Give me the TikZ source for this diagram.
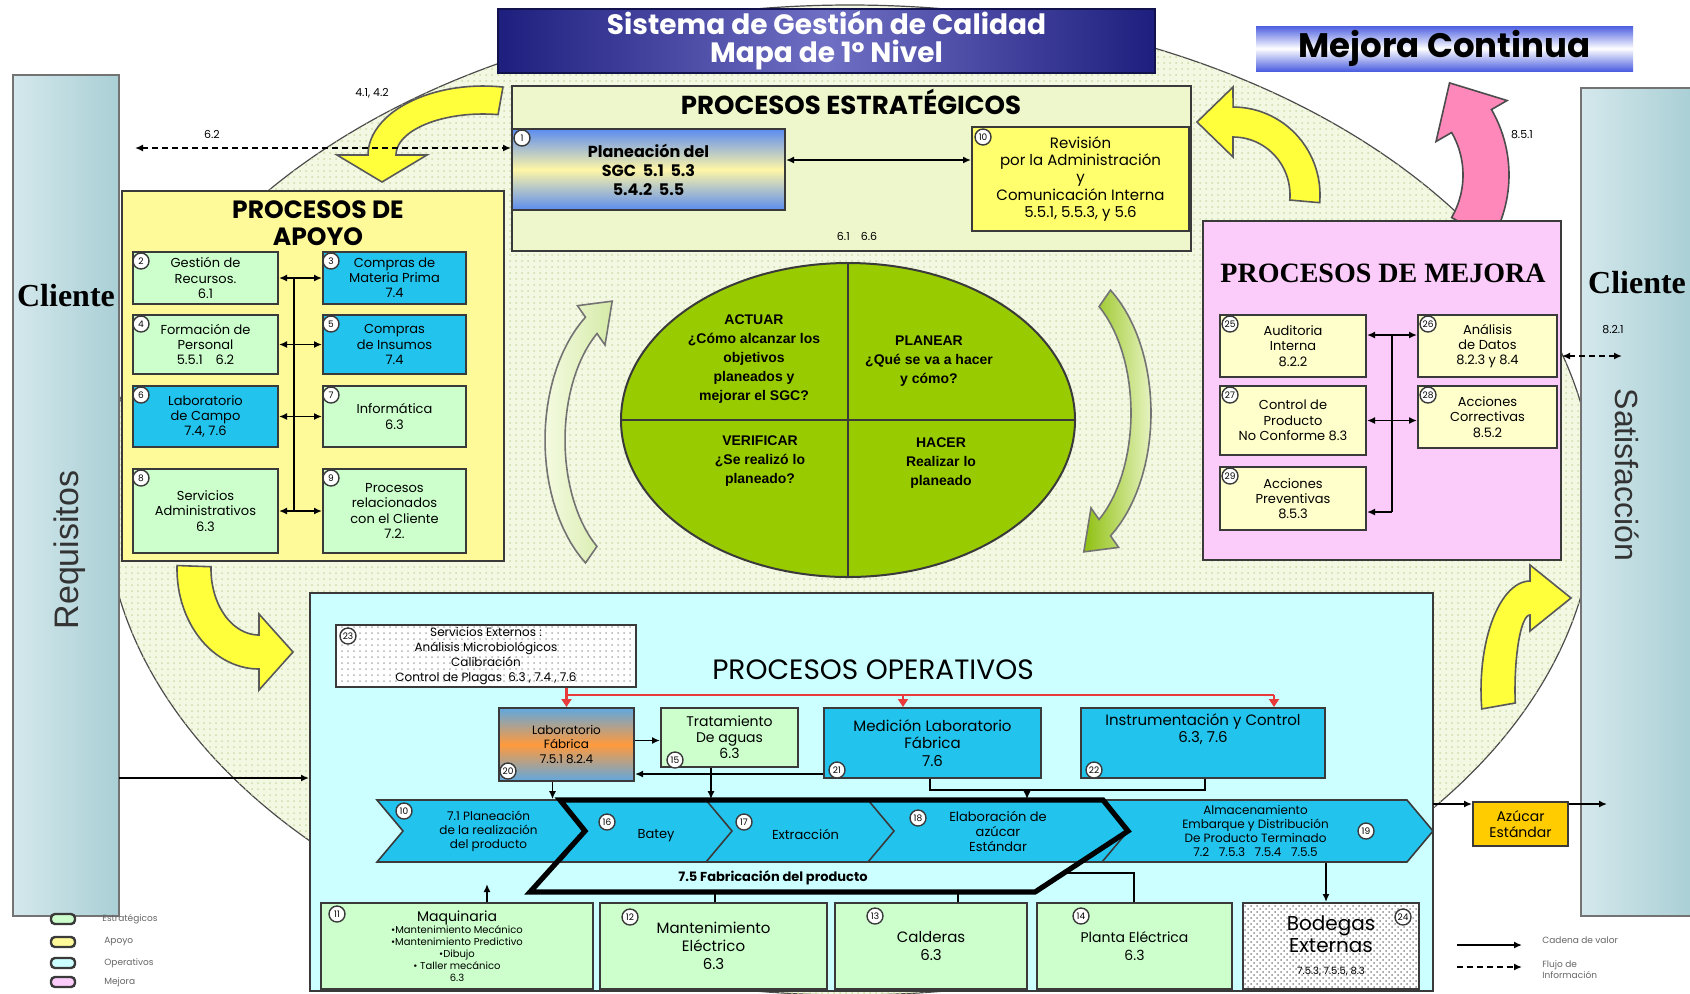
\documentclass[tikz,border=0pt]{standalone}
\usepackage{fontspec}
\setmainfont{Poppins}
\newfontfamily\serifb{Liberation Serif}
\newfontfamily\arialf{Liberation Sans}
\usetikzlibrary{arrows.meta,shapes.symbols,shapes.geometric,patterns}
\definecolor{ellbg}{HTML}{F3F8E2}
\definecolor{ellpat}{HTML}{CCDAA8}
\definecolor{barL}{HTML}{D4E8EC}
\definecolor{barR}{HTML}{A9CFD5}
\definecolor{navyA}{HTML}{1E1E7E}
\definecolor{navyB}{HTML}{6F6FC4}
\definecolor{mcBlue}{HTML}{4C5FE0}
\definecolor{estbg}{HTML}{EEF6CC}
\definecolor{apbg}{HTML}{FFFA99}
\definecolor{mejbg}{HTML}{FBCCF9}
\definecolor{opbg}{HTML}{CCFFFF}
\definecolor{grbox}{HTML}{CCFFCC}
\definecolor{cybox}{HTML}{22C4EE}
\definecolor{ylbox}{HTML}{FFFF6E}
\definecolor{lybox}{HTML}{FFFFCC}
\definecolor{pdca}{HTML}{99CC00}
\definecolor{yarrow}{HTML}{FFFF3C}
\definecolor{parrow}{HTML}{FF88BB}
\definecolor{redl}{HTML}{E83A3A}
\definecolor{pblue}{HTML}{5B8CF0}
\definecolor{pyel}{HTML}{FFF6A6}
\definecolor{labblue}{HTML}{5FA8E0}
\definecolor{laborange}{HTML}{FF9A3C}
\definecolor{azucar}{HTML}{FFCC00}
\definecolor{edge}{HTML}{3A3A3A}
\definecolor{gArL}{HTML}{F4FAE0}
\definecolor{gArR}{HTML}{D5EBA8}
\definecolor{gArD}{HTML}{8FC010}
\definecolor{gArM}{HTML}{E6F3C0}
\newcommand\fs[2]{\fontsize{#1}{#2}\selectfont}
\newcommand\bx[7]{\node[#6,minimum width={(#4-#2)*0.5pt},minimum height={(#5-#3)*0.5pt}] (#1) at ({(#2+#4)/2},{(#3+#5)/2}) {#7};}
\newcommand\nc[4]{\node[numc] (#1) at (#2,#3) {#4};}
\def\HL{30}
\newcommand\bentarrow[9][]{%
  \pgfmathsetmacro\BAsg{ifthenelse(#7>#6,1,-1)}%
  \pgfmathsetmacro\BAtx{-(#4)*sin(#7)*\BAsg}%
  \pgfmathsetmacro\BAty{-(#5)*cos(#7)*\BAsg}%
  \pgfmathsetmacro\BAtn{sqrt((\BAtx)^2+(\BAty)^2)}%
  \pgfmathsetmacro\BAtx{\BAtx/\BAtn}%
  \pgfmathsetmacro\BAty{\BAty/\BAtn}%
  \pgfmathsetmacro\BAex{#2+(#4)*cos(#7)}%
  \pgfmathsetmacro\BAey{#3-(#5)*sin(#7)}%
  \pgfmathsetmacro\BAnx{cos(#7)}%
  \pgfmathsetmacro\BAny{-sin(#7)}%
  \pgfmathsetmacro\BAro{(#8)/2}%
  \pgfmathsetmacro\BAh{(#9)/2}%
  \draw[#1] plot[domain=0:1,samples=30,variable=\ang] ({#2+(#4+\BAro)*cos((#6)+((#7)-(#6))*\ang)},{#3-(#5+\BAro)*sin((#6)+((#7)-(#6))*\ang)})
    -- ({\BAex+\BAh*\BAnx},{\BAey+\BAh*\BAny})
    -- ({\BAex+\HL*\BAtx},{\BAey+\HL*\BAty})
    -- ({\BAex-\BAh*\BAnx},{\BAey-\BAh*\BAny})
    -- plot[domain=0:1,samples=30,variable=\ang] ({#2+(#4-\BAro)*cos((#7)+((#6)-(#7))*\ang)},{#3-(#5-\BAro)*sin((#7)+((#6)-(#7))*\ang)})
    -- cycle;
}
\begin{document}
\begin{tikzpicture}[x=0.5pt,y=-0.5pt,
  box/.style={draw=edge,line width=1pt,align=center,inner sep=1pt,font=\fs{6.5}{7.6}},
  gbox/.style={box,fill=grbox},
  cbox/.style={box,fill=cybox},
  ybox/.style={box,fill=lybox},
  numc/.style={circle,draw=edge,fill=white,line width=0.7pt,inner sep=0pt,minimum size=8pt,font=\fs{4.5}{5}},
  arr/.style={line width=0.8pt,-{Latex[length=4pt,width=3.5pt]}},
  darr/.style={line width=0.8pt,{Latex[length=4pt,width=3.5pt]}-{Latex[length=4pt,width=3.5pt]}},
  redarr/.style={draw=redl,line width=1.2pt,-{Triangle[length=4pt,width=5pt]}},
  chev/.style={signal,signal to=east,signal from=west,signal pointer angle=100,draw=edge,fill=cybox,line width=0.8pt,inner sep=0pt,minimum height=31pt,align=center,font=\fs{6}{7}},
  yarr/.style={draw=black!65,line width=0.8pt,fill=yarrow},
  lab/.style={font=\fs{5.5}{6},inner sep=1pt},
  pdt/.style={font=\arialf\bfseries\fs{7}{9.5},align=center,inner sep=0pt},
  dsh/.style={dash pattern=on 3pt off 2pt},
]
\useasboundingbox (0,0) rectangle (1690,993);
\fill[white] (0,0) rectangle (1690,993);
% background ellipse
\node[ellipse,draw=black!70,line width=0.6pt,fill=ellbg,postaction={pattern=dots,pattern color=ellpat},minimum width=745pt,minimum height=495pt,inner sep=0pt] (bg) at (850,500) {};
% client bars
\bx{cliL}{13}{75}{119}{916}{draw=black!55,line width=0.8pt,left color=barL,right color=barR}{}
\bx{cliR}{1581}{88}{1692}{916}{draw=black!55,line width=0.8pt,left color=barL,right color=barR}{}
\node[font=\serifb\bfseries\fs{16}{16},inner sep=0pt] (cliLt) at (66,296) {Cliente};
\node[font=\arialf\fs{17}{17},text=black!80,rotate=90,inner sep=0pt] (req) at (70,550) {Requisitos};
\node[font=\serifb\bfseries\fs{16}{16},inner sep=0pt] (cliRt) at (1637,283) {Cliente};
\node[font=\arialf\fs{16}{16},text=black!80,rotate=-90,inner sep=0pt] (sat) at (1627,475) {Satisfacción};
% title boxes
\bx{title}{498}{9}{1155}{73}{draw=navyA!60!black,line width=1pt,left color=navyA,right color=navyA,middle color=navyB,text=white,align=center,inner sep=0pt,font=\bfseries\fs{14}{14}}{Sistema de Gestión de Calidad\\Mapa de 1° Nivel}
\bx{mc}{1256}{26}{1633}{71}{top color=mcBlue,bottom color=mcBlue,middle color=white,inner sep=0pt,font=\bfseries\fs{17}{17}}{Mejora Continua}
% big curved arrows
\def\HL{27}\bentarrow[yarr]{483}{155}{101}{55}{80}{180}{28}{90}
\def\HL{36}\bentarrow[yarr]{1233}{195}{72}{73}{-5}{90}{30}{70}
\def\HL{44}\bentarrow[draw=black!70,line width=0.8pt,fill=parrow]{1378}{175}{108}{108}{-30}{30}{46}{82}
\def\HL{34}\bentarrow[yarr]{259}{569}{65}{83}{178}{270}{34}{76}
\def\HL{41}\bentarrow[yarr]{1530}{690}{32}{92}{190}{90}{34}{66}
\def\HL{32}\bentarrow[draw=black!55,line width=0.8pt,left color=gArL,right color=gArR]{640}{440}{85}{140}{235}{125}{20}{48}
\def\HL{32}\bentarrow[draw=black!55,line width=0.8pt,left color=gArD,right color=gArM]{1056}{413}{85}{140}{55}{-55}{20}{48}
% group boxes
\bx{est}{512}{86}{1191}{251}{draw=edge,line width=1pt,fill=estbg}{}
\bx{apo}{122}{191}{504}{561}{draw=edge,line width=1pt,fill=apbg}{}
\bx{mej}{1203}{221}{1561}{560}{draw=edge,line width=1pt,fill=mejbg}{}
\bx{op}{310}{593}{1433}{991}{draw=edge,line width=1pt,fill=opbg}{}
% headers
\node[font=\bfseries\fs{13}{13},inner sep=0pt] (esT) at (851,102) {PROCESOS ESTRATÉGICOS};
\node[font=\bfseries\fs{12.5}{13.5},align=center,inner sep=0pt] (apT) at (318,223) {PROCESOS DE\\APOYO};
\node[font=\serifb\bfseries\fs{14}{14},inner sep=0pt] (mjT) at (1383,273) {PROCESOS DE MEJORA};
\node[font=\fs{14}{14},inner sep=0pt] (opT) at (873,670) {PROCESOS OPERATIVOS};
% strategic
\bx{e1}{512}{129}{785}{210}{box,top color=pblue,bottom color=pblue,middle color=pyel,font=\bfseries\fs{8}{9.5}}{Planeación del\\SGC\ \ 5.1\ \ 5.3\\5.4.2\ \ 5.5}
\bx{e10}{972}{127}{1189}{231}{box,fill=ylbox,font=\fs{7.5}{8.7}}{Revisión\\por la Administración\\y\\Comunicación Interna\\5.5.1, 5.5.3, y 5.6}
\nc{n1}{522}{138}{1}
\nc{n10}{983}{137}{10}
\draw[darr] ([yshift=4.75pt]e1.east) -- ([yshift=4.75pt]e1.east -| e10.west);
\node[lab] (l66) at (857,236) {6.1\quad 6.6};
\coordinate (d62) at (135,148);
\draw[darr,dsh] (d62) -- (d62 -| e1.west);
\node[lab] (l62) at (212,134) {6.2};
\node[lab] (l41) at (372,93) {4.1, 4.2};
% apoyo boxes
\bx{a2}{133}{252}{278}{304}{gbox}{Gestión de\\Recursos.\\6.1}
\bx{a3}{323}{252}{466}{304}{cbox}{Compras de\\Materia Prima\\7.4}
\bx{a4}{133}{315}{278}{374}{gbox}{Formación de\\Personal\\5.5.1\quad 6.2}
\bx{a5}{323}{315}{466}{374}{cbox}{Compras\\de Insumos\\7.4}
\bx{a6}{133}{386}{278}{447}{cbox}{Laboratorio\\de Campo\\7.4, 7.6}
\bx{a7}{323}{386}{466}{447}{gbox}{Informática\\6.3}
\bx{a8}{133}{469}{278}{553}{gbox}{Servicios\\Administrativos\\6.3}
\bx{a9}{323}{469}{466}{553}{gbox}{Procesos\\relacionados\\con el Cliente\\7.2.}
\nc{n2}{141}{261}{2}\nc{n3}{331}{261}{3}\nc{n4}{141}{324}{4}\nc{n5}{331}{324}{5}
\nc{n6}{141}{395}{6}\nc{n7}{331}{395}{7}\nc{n8}{141}{478}{8}\nc{n9}{331}{478}{9}
\coordinate (abT) at (294,278);
\coordinate (abB) at (294,511);
\draw[line width=1pt] (abT) -- (abB);
\draw[darr] (a2.east) -- (a3.west);
\draw[darr] (a4.east) -- (a5.west);
\draw[darr] (a6.east) -- (a7.west);
\draw[darr] (a8.east) -- (a9.west);
% PDCA
\node[ellipse,draw=edge,line width=1pt,fill=pdca,minimum width=227pt,minimum height=157pt,inner sep=0pt] (pd) at (848,420) {};
\draw[line width=1.2pt,edge] (pd.north) -- (pd.south);
\draw[line width=1.2pt,edge] (pd.west) -- (pd.east);
\node[pdt] (tA) at (754,359) {ACTUAR\\¿Cómo alcanzar los\\objetivos\\planeados y\\mejorar el SGC?};
\node[pdt] (tP) at (929,361) {PLANEAR\\¿Qué se va a hacer\\y cómo?};
\node[pdt] (tV) at (760,461) {VERIFICAR\\¿Se realizó lo\\planeado?};
\node[pdt] (tH) at (941,463) {HACER\\Realizar lo\\planeado};
% mejora
\bx{m25}{1220}{315}{1366}{377}{ybox}{Auditoria\\Interna\\8.2.2}
\bx{m26}{1418}{315}{1557}{377}{ybox}{Análisis\\de Datos\\8.2.3 y 8.4}
\bx{m27}{1220}{386}{1366}{455}{ybox}{Control de\\Producto\\No Conforme 8.3}
\bx{m28}{1418}{386}{1557}{448}{ybox}{Acciones\\Correctivas\\8.5.2}
\bx{m29}{1220}{467}{1366}{530}{ybox}{Acciones\\Preventivas\\8.5.3}
\nc{n25}{1230}{324}{25}\nc{n26}{1428}{324}{26}\nc{n27}{1230}{395}{27}\nc{n28}{1428}{395}{28}\nc{n29}{1230}{476}{29}
\coordinate (mbT) at (1392,335);
\coordinate (mbB) at (1392,512);
\draw[line width=1pt] (mbT) -- (mbB);
\draw[darr] ([yshift=5.5pt]m25.east) -- ([yshift=5.5pt]m26.west);
\draw[darr] (m27.east) -- (m27.east -| m28.west);
\draw[arr] (mbB) -- (mbB -| m29.east);
\coordinate (c821) at (1622,356);
\draw[darr,dsh] (c821 -| mej.east) -- (c821);
\node[lab] (l821) at (1613,330) {8.2.1};
\node[lab] (l851) at (1522,135) {8.5.1};
% operativos
\bx{o23}{336}{625}{636}{687}{box,preaction={fill=white},pattern=dots,pattern color=black!30,font=\fs{6}{7.5}}{Servicios Externos :\\Análisis Microbiológicos\\Calibración\\Control de Plagas\ \ 6.3 , 7.4 , 7.6}
\bx{o20}{499}{708}{634}{781}{box,top color=labblue,bottom color=labblue,middle color=laborange,font=\fs{6}{7.2}}{Laboratorio\\Fábrica\\7.5.1 8.2.4}
\bx{o19}{661}{708}{798}{767}{gbox,font=\fs{7}{8}}{Tratamiento\\De aguas\\6.3}
\bx{o21}{824}{708}{1041}{778}{cbox,font=\fs{7.5}{8.7}}{Medición Laboratorio\\Fábrica\\7.6}
\bx{o22}{1081}{708}{1325}{778}{cbox,font=\fs{7.5}{8.7}}{Instrumentación y Control\\6.3, 7.6\\[6pt]}
\nc{n23}{348}{636}{23}\nc{n20}{508}{771}{20}\nc{n15}{675}{760}{15}\nc{n21}{837}{770}{21}\nc{n22}{1094}{770}{22}
\coordinate (rj) at (566.5,695);
\coordinate (rM) at (903,695);
\coordinate (rE) at (1274,695);
\draw[redarr] (o23.south -| o20.north) -- (o20.north);
\draw[draw=redl,line width=1.2pt] (rj) -- (rE);
\draw[redarr] (rM) -- (rM |- o21.north);
\draw[redarr] (rE) -- (rE |- o22.north);
% chevrons
\node[chev,minimum width=177.5pt] (c5) at (1255.5,831) {Almacenamiento\\Embarque y Distribución\\De Producto Terminado\\7.2\ \ \ 7.5.3\ \ \ 7.5.4\ \ \ 7.5.5};
\node[chev,minimum width=111.5pt] (c1) at (488.5,831) {7.1 Planeación\\de la realización\\del producto};
\node[chev,minimum width=92.5pt,font=\fs{6.5}{7}] (c2) at (652.5,831) {\\[2pt]\ \ Batey};
\node[chev,minimum width=99.5pt,font=\fs{6.5}{7}] (c3) at (805.5,831) {\\[2pt]Extracción};
\node[chev,minimum width=130pt,font=\fs{6.5}{7.5}] (c4) at (998,831) {Elaboración de\\azúcar\\Estándar};
\nc{n18a}{404}{811}{10}\nc{n16}{607}{822}{16}\nc{n17}{744}{822}{17}\nc{n18}{918}{818}{18}\nc{n19}{1366}{831}{19}
\draw[line width=2.6pt,line join=miter] (560,800) -- (1103,800) -- (1128,831) -- (1035,892) -- (530,892) -- (585,831) -- cycle;
\node[font=\bfseries\fs{6.5}{7},inner sep=0pt] (fab) at (773,878) {7.5 Fabricación del producto};
\draw[arr] ([yshift=2pt]o20.east) -- ([yshift=2pt]o20.east -| o19.west);
\draw[arr] ([yshift=-15.5pt]o21.west) -- ([yshift=-15.5pt]o21.west -| o20.east);
\draw[arr] ([xshift=-7pt]o20.south) -- ([xshift=-7pt]o20.south |- c1.north);
\draw[arr] ([xshift=-9.25pt]o19.south) -- ([xshift=-9.25pt]o19.south |- c2.north);
\coordinate (mi) at (930,790);
\coordinate (ii) at (1205,790);
\coordinate (mid) at (1027,790);
\draw[line width=0.8pt] (mi |- o21.south) -- (mi) -- (ii) -- (ii |- o22.south);
\draw[arr] (mid) -- (mid |- c4.north);
% bottom row
\bx{o11}{321}{903}{593}{989}{gbox,font=\fs{5}{6}}{{\fs{7}{8}Maquinaria}\\•Mantenimiento Mecánico\\•Mantenimiento Predictivo\\•Dibujo\\• Taller mecánico\\6.3}
\bx{o12}{600}{903}{827}{989}{gbox,font=\fs{7.5}{9}}{Mantenimiento\\Eléctrico\\6.3}
\bx{o13}{835}{903}{1027}{989}{gbox,font=\fs{7.5}{9}}{Calderas\\6.3}
\bx{o14}{1037}{903}{1232}{989}{gbox,font=\fs{7}{9}}{Planta Eléctrica\\6.3}
\bx{o24}{1243}{903}{1419}{989}{box,preaction={fill=white},pattern=crosshatch dots,pattern color=black!45,font=\fs{10}{11}}{Bodegas\\Externas\\{\fs{5}{6}7.5.3, 7.5.5, 8.3}}
\nc{n11}{337}{914}{11}\nc{n12}{630}{917}{12}\nc{n13}{875}{916}{13}\nc{n14}{1081}{916}{14}\nc{n24}{1403}{917}{24}
\coordinate (mq) at (487,884);
\draw[arr] (mq |- o11.north) -- (mq);
\coordinate (t12) at (715,892);
\draw[line width=0.8pt] (t12 |- o12.north) -- (t12);
\coordinate (t13) at (958,892);
\draw[line width=0.8pt] (t13 |- o13.north) -- (t13);
\coordinate (pl1) at (1134,873);
\coordinate (pl2) at (1064,873);
\draw[line width=0.8pt] (pl1 |- o14.north) -- (pl1) -- (pl2);
\draw[arr] ([xshift=35.25pt]c5.south) -- ([xshift=35.25pt]c5.south |- o24.north);
% inputs / outputs
\coordinate (inL) at (119,778);
\draw[arr,line width=1pt] (inL) -- (inL -| op.west);
\bx{az}{1473}{802}{1568}{846}{box,fill=azucar,font=\fs{7}{8}}{Azúcar\\Estándar}
\coordinate (outA) at (1433,804);
\coordinate (outB) at (1607,804);
\draw[arr,line width=1pt] (outA) -- (outA -| az.west);
\draw[arr,line width=1pt] (outA -| az.east) -- (outB);
% legend
\bx{lg1}{51}{914}{75}{924}{draw=edge,line width=1.2pt,rounded corners=2pt,fill=grbox,inner sep=0pt}{}
\bx{lg2}{51}{937}{75}{947}{draw=edge,line width=1.2pt,rounded corners=2pt,fill=apbg,inner sep=0pt}{}
\bx{lg3}{51}{958}{75}{968}{draw=edge,line width=1.2pt,rounded corners=2pt,fill=opbg,inner sep=0pt}{}
\bx{lg4}{51}{977}{75}{987}{draw=edge,line width=1.2pt,rounded corners=2pt,fill=mejbg,inner sep=0pt}{}
\node[anchor=west,font=\fs{4.5}{5},text=black!60,inner sep=0pt] (lt1) at (102,919) {Estratégicos};
\node[anchor=west,font=\fs{4.5}{5},text=black!60,inner sep=0pt] (lt2) at (104,942) {Apoyo};
\node[anchor=west,font=\fs{4.5}{5},text=black!60,inner sep=0pt] (lt3) at (104,963) {Operativos};
\node[anchor=west,font=\fs{4.5}{5},text=black!60,inner sep=0pt] (lt4) at (104,982) {Mejora};
\coordinate (lgA1) at (1457,945);
\coordinate (lgA2) at (1522,945);
\coordinate (lgB1) at (1457,967);
\coordinate (lgB2) at (1522,967);
\draw[arr] (lgA1) -- (lgA2);
\draw[arr,dsh] (lgB1) -- (lgB2);
\node[anchor=west,font=\fs{4.5}{5},text=black!60,inner sep=0pt] (lt5) at (1542,940) {Cadena de valor};
\node[anchor=west,align=left,font=\fs{4.5}{5.5},text=black!60,inner sep=0pt] (lt6) at (1542,970) {Flujo de\\Información};
\end{tikzpicture}
\end{document}
